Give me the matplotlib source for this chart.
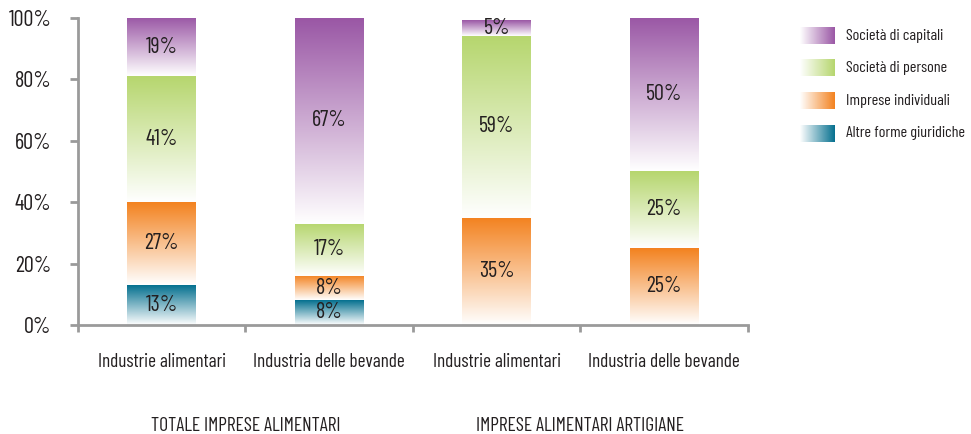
"""Stacked shares of legal forms in food and beverage companies."""

import matplotlib.pyplot as plt
import numpy as np
from matplotlib.colors import LinearSegmentedColormap

plt.rcParams["font.family"] = ["Barlow Condensed", "DejaVu Sans"]

categories = [
    "Industrie alimentari",
    "Industria delle bevande",
    "Industrie alimentari",
    "Industria delle bevande",
]
groups = ["TOTALE IMPRESE ALIMENTARI", "IMPRESE ALIMENTARI ARTIGIANE"]

# series listed from the bottom of the stack upwards
series_names = [
    "Altre forme giuridiche",
    "Imprese individuali",
    "Società di persone",
    "Società di capitali",
]
altre_forme = [13, 8, 0, 0]
imprese_individuali = [27, 8, 35, 25]
societa_persone = [41, 17, 59, 25]
societa_capitali = [19, 67, 5, 50]
series_values = [altre_forme, imprese_individuali, societa_persone, societa_capitali]
series_colors = ["#05708f", "#f3821f", "#b6d66e", "#9a57a5"]

TEXT = "#231f20"
AXIS = "#9a9a9a"
BAR_WIDTH = 0.41


def _gradient(color, horizontal=False):
    cmap = LinearSegmentedColormap.from_list("fade", ["#ffffff", color])
    ramp = np.linspace(0.0, 1.0, 256)
    if horizontal:
        return ramp.reshape(1, -1), cmap
    return ramp.reshape(-1, 1), cmap


figure = plt.figure(figsize=(9.71, 4.34), dpi=100)
axes = figure.add_axes([0.0803, 0.2512, 0.6900, 0.7073])

positions = np.arange(len(categories))
bottoms = np.zeros(len(categories))
for values, color in zip(series_values, series_colors):
    data, cmap = _gradient(color)
    for x, value, bottom in zip(positions, values, bottoms):
        if value <= 0:
            continue
        axes.imshow(
            data,
            cmap=cmap,
            origin="lower",
            aspect="auto",
            interpolation="bilinear",
            extent=[x - BAR_WIDTH / 2, x + BAR_WIDTH / 2, bottom, bottom + value],
            zorder=2,
        )
        axes.text(
            x,
            bottom + value / 2,
            f"{value}%",
            ha="center",
            va="center",
            fontsize=16,
            color=TEXT,
            zorder=3,
        )
    bottoms += np.array(values)

axes.set_xlim(-0.5, len(categories) - 0.5)
axes.set_ylim(0, 100)
axes.set_yticks(np.arange(0, 101, 20))
axes.set_yticklabels([f"{tick}%" for tick in range(0, 101, 20)])
axes.set_xticks(np.arange(-0.5, len(categories), 1.0))
axes.set_xticklabels([])
axes.tick_params(axis="y", length=6, width=2, color=AXIS, labelsize=16,
                 labelcolor=TEXT, pad=13)
axes.tick_params(axis="x", length=5, width=2, color=AXIS)
for side in ("top", "right"):
    axes.spines[side].set_visible(False)
for side in ("left", "bottom"):
    axes.spines[side].set_color(AXIS)
    axes.spines[side].set_linewidth(2)

for x, label in zip(positions, categories):
    axes.annotate(label, (x, 0), xytext=(0, -27), textcoords="offset points",
                  xycoords="data", ha="center", va="center", fontsize=13.8,
                  color=TEXT, annotation_clip=False)
for index, label in enumerate(groups):
    axes.annotate(label, (2 * index + 0.5, 0), xytext=(0, -73),
                  textcoords="offset points", xycoords="data", ha="center",
                  va="center", fontsize=14, color=TEXT, annotation_clip=False)

# legend drawn by hand so the swatches keep their horizontal fade
legend = figure.add_axes([0.824, 0.655, 0.176, 0.30])
legend.set_xlim(0, 1)
legend.set_ylim(0, len(series_names))
legend.axis("off")
for row, (name, color) in enumerate(zip(series_names, series_colors)):
    data, cmap = _gradient(color, horizontal=True)
    legend.imshow(data, cmap=cmap, aspect="auto", interpolation="bilinear",
                  extent=[0.0, 0.2, row + 0.25, row + 0.75])
    legend.text(0.27, row + 0.5, name, ha="left", va="center", fontsize=11.7,
                color=TEXT)

figure.savefig("out.png", dpi=100, facecolor="white")
